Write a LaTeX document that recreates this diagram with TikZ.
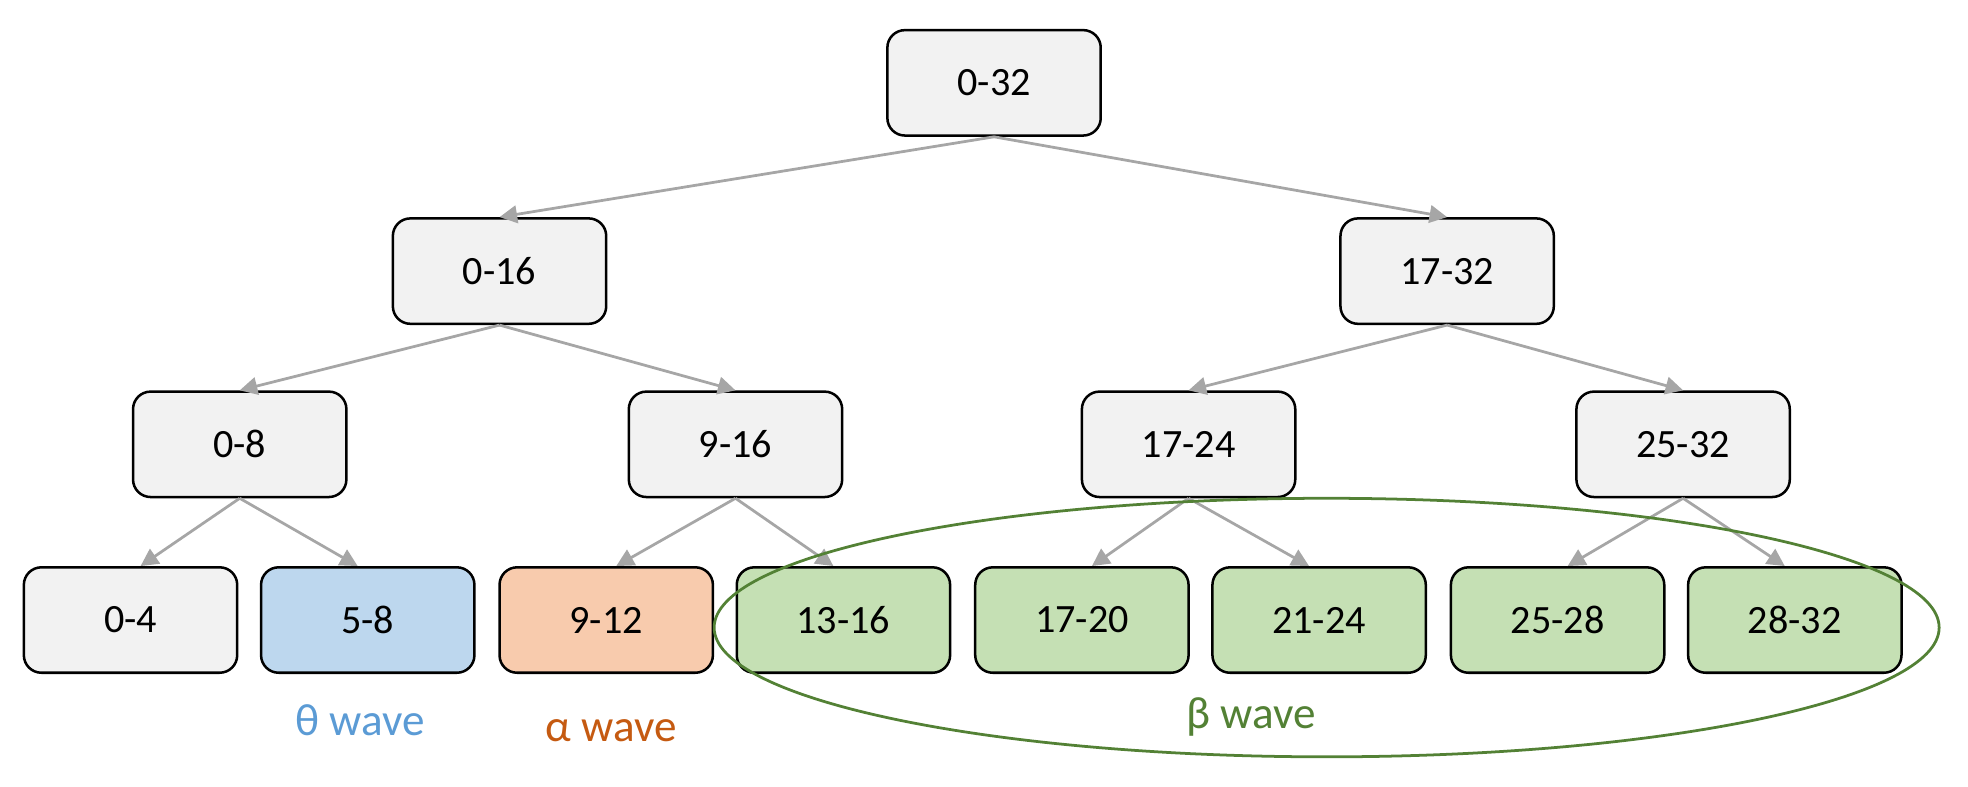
\documentclass[tikz,border=0pt]{standalone}
\usepackage{fontspec}
\setmainfont{Carlito}
\usetikzlibrary{arrows.meta}
\definecolor{gbox}{HTML}{F2F2F2}
\definecolor{bbox}{HTML}{BDD7EE}
\definecolor{obox}{HTML}{F8CBAD}
\definecolor{vbox}{HTML}{C5E0B4}
\definecolor{tblue}{HTML}{5B9BD5}
\definecolor{torange}{HTML}{C55A11}
\definecolor{tgreen}{HTML}{538135}
\definecolor{arr}{HTML}{A6A6A6}
\begin{document}
\begin{tikzpicture}[x=0.5pt,y=-0.5pt,
  box/.style={draw=black,line width=1pt,rounded corners=7pt,minimum width=85pt,minimum height=42pt,font=\fontsize{16}{18}\selectfont,inner sep=0pt},
  ar/.style={draw=arr,line width=1.1pt,-{Triangle[length=7pt,width=7pt]}},
  lab/.style={font=\fontsize{18}{20}\selectfont}]
\useasboundingbox (0,0) rectangle (1568,627);
\node[box,fill=gbox] (r) at (792,66) {0-32};
\node[box,fill=gbox] (a) at (398,216) {0-16};
\node[box,fill=gbox] (b) at (1153,216) {17-32};
\node[box,fill=gbox] (c1) at (191,354) {0-8};
\node[box,fill=gbox] (c2) at (586,354) {9-16};
\node[box,fill=gbox] (c3) at (947,354) {17-24};
\node[box,fill=gbox] (c4) at (1341,354) {25-32};
\node[box,fill=gbox] (l1) at (104,494) {0-4};
\node[box,fill=bbox] (l2) at (293,494) {5-8};
\node[box,fill=obox] (l3) at (483,494) {9-12};
\node[box,fill=vbox] (l4) at (672,494) {13-16};
\node[box,fill=vbox] (l5) at (862,494) {17-20};
\node[box,fill=vbox] (l6) at (1051,494) {21-24};
\node[box,fill=vbox] (l7) at (1241,494) {25-28};
\node[box,fill=vbox] (l8) at (1430,494) {28-32};
\draw[ar] (r.south) -- (a.north);
\draw[ar] (r.south) -- (b.north);
\draw[ar] (a.south) -- (c1.north);
\draw[ar] (a.south) -- (c2.north);
\draw[ar] (b.south) -- (c3.north);
\draw[ar] (b.south) -- (c4.north);
\draw[ar] (c1.south) -- ([xshift=4pt]l1.north);
\draw[ar] (c1.south) -- ([xshift=-4pt]l2.north);
\draw[ar] (c2.south) -- ([xshift=4pt]l3.north);
\draw[ar] (c2.south) -- ([xshift=-4pt]l4.north);
\draw[ar] (c3.south) -- ([xshift=4pt]l5.north);
\draw[ar] (c3.south) -- ([xshift=-4pt]l6.north);
\draw[ar] (c4.south) -- ([xshift=4pt]l7.north);
\draw[ar] (c4.south) -- ([xshift=-4pt]l8.north);
\coordinate (ec) at (1057,500);
\draw[tgreen,line width=1.1pt] (ec) ellipse [x radius=488,y radius=103];
\node[lab,text=tblue] (t1) at (287,574) {θ wave};
\node[lab,text=torange] (t2) at (487,582) {α wave};
\node[lab,text=tgreen] (t3) at (997,571) {β wave};
\end{tikzpicture}
\end{document}
